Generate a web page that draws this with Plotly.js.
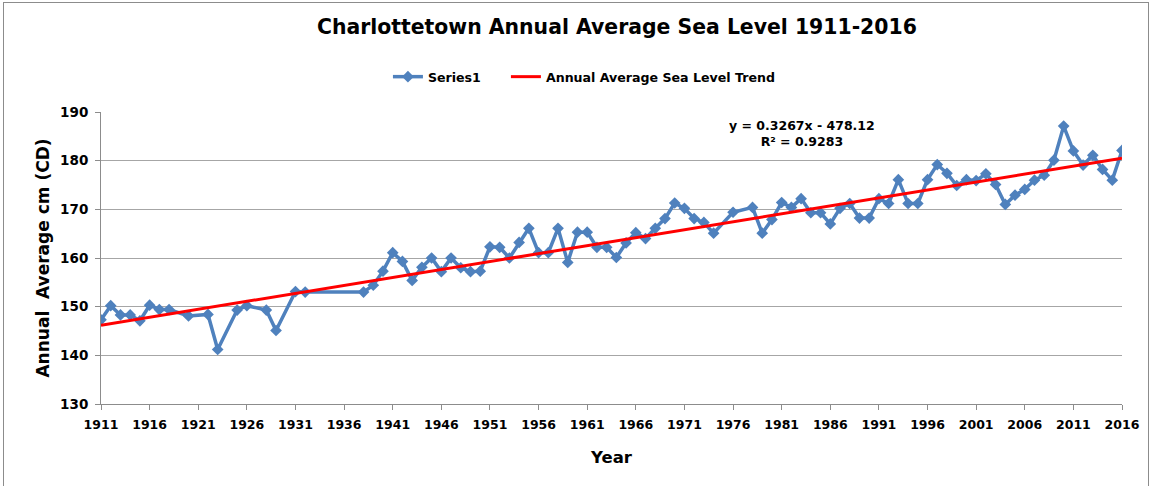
<!DOCTYPE html>
<html>
<head>
<meta charset="utf-8">
<script src="https://cdn.plot.ly/plotly-3.0.1.min.js"></script>
<style>
    html, body { margin: 0; padding: 0; background: #ffffff; }
    #frame {
        position: absolute; left: 3px; top: 2px;
        width: 1144px; height: 490px;
        border: 1px solid #8c8c8c;
    }
    #chart { position: absolute; left: -4px; top: -3px; width: 1151px; height: 486px; }
</style>
</head>
<body>
<div id="frame"><div id="chart"></div></div>
<script>
// 年份（有缺测年份）
const years = [1911, 1912, 1913, 1914, 1915, 1916, 1917, 1918, 1920, 1922, 1923, 1925, 1926, 1928, 1929,
    1931, 1932, 1938, 1939, 1940, 1941, 1942, 1943, 1944, 1945, 1946, 1947, 1948, 1949, 1950,
    1951, 1952, 1953, 1954, 1955, 1956, 1957, 1958, 1959, 1960, 1961, 1962, 1963, 1964, 1965,
    1966, 1967, 1968, 1969, 1970, 1971, 1972, 1973, 1974, 1976, 1978, 1979, 1980, 1981, 1982,
    1983, 1984, 1985, 1986, 1987, 1988, 1989, 1990, 1991, 1992, 1993, 1994, 1995, 1996, 1997,
    1998, 1999, 2000, 2001, 2002, 2003, 2004, 2005, 2006, 2007, 2008, 2009, 2010, 2011, 2012,
    2013, 2014, 2015, 2016];

// 年平均海平面 cm (CD)
const seaLevel = [147.3, 150.2, 148.3, 148.3, 147.1, 150.3, 149.4, 149.4, 148.1, 148.4, 141.2, 149.3, 150.2, 149.3, 145.1,
    153.1, 153.0, 153.0, 154.4, 157.3, 161.1, 159.3, 155.4, 158.1, 160.0, 157.2, 160.0, 158.0, 157.2, 157.3,
    162.3, 162.2, 160.0, 163.2, 166.1, 161.1, 161.1, 166.1, 159.1, 165.3, 165.3, 162.2, 162.2, 160.1, 163.1,
    165.2, 164.0, 166.1, 168.1, 171.3, 170.2, 168.1, 167.3, 165.1, 169.4, 170.4, 165.1, 167.9, 171.4, 170.4,
    172.2, 169.3, 169.3, 167.0, 170.2, 171.2, 168.2, 168.2, 172.2, 171.2, 176.1, 171.2, 171.2, 176.1, 179.2,
    177.4, 174.9, 176.1, 175.9, 177.3, 175.1, 171.0, 172.9, 174.1, 176.0, 177.0, 180.1, 187.1, 182.0, 179.1,
    181.1, 178.2, 176.0, 182.1];

// 趋势线端点
const trendYears = [1911, 2016];
const trendValues = [146.2, 180.5];

// 横轴刻度
const xTicks = [1911, 1916, 1921, 1926, 1931, 1936, 1941, 1946, 1951, 1956, 1961, 1966,
    1971, 1976, 1981, 1986, 1991, 1996, 2001, 2006, 2011, 2016];

// 纵轴刻度
const yTicks = [130, 140, 150, 160, 170, 180, 190];

const FONT = '"DejaVu Sans", Arial, sans-serif';

const data = [{
    x: years,
    y: seaLevel,
    type: 'scatter',
    mode: 'lines+markers',
    name: '<b>Series1</b>\u00a0\u00a0\u00a0\u00a0\u00a0',
    line: { color: '#4F81BD', width: 3.5 },
    marker: { symbol: 'diamond', size: 9, color: '#4F81BD' }
}, {
    x: trendYears,
    y: trendValues,
    type: 'scatter',
    mode: 'lines',
    name: '<b>Annual Average Sea Level Trend</b>',
    line: { color: '#FF0000', width: 3 }
}];

const layout = {
    width: 1151,
    height: 486,
    margin: { l: 101, r: 29, t: 112, b: 82 },
    paper_bgcolor: 'rgba(0,0,0,0)',
    plot_bgcolor: '#ffffff',
    font: { family: FONT, color: '#000000' },
    title: {
        text: '<b>Charlottetown Annual Average Sea Level 1911-2016</b>',
        font: { size: 20.4, family: FONT },
        x: 0.536, xanchor: 'center',
        y: 0.945, yanchor: 'middle'
    },
    showlegend: true,
    legend: {
        orientation: 'h',
        x: 0.473, xanchor: 'center',
        y: 1.12, yanchor: 'middle',
        font: { size: 12.6, family: FONT },
        itemwidth: 30,
        traceorder: 'normal'
    },
    xaxis: {
        range: [1911, 2016],
        tickvals: xTicks,
        ticktext: xTicks.map(v => '<b>' + v + '</b>'),
        tickfont: { size: 12.5 },
        ticks: 'outside',
        ticklen: 5,
        tickcolor: '#8c8c8c',
        ticklabelstandoff: 4,
        showgrid: false,
        zeroline: false,
        showline: true,
        linecolor: '#8c8c8c',
        linewidth: 1,
        title: { text: '<b>Year</b>', font: { size: 16.5 }, standoff: 20 }
    },
    yaxis: {
        range: [130, 190],
        tickvals: yTicks,
        ticktext: yTicks.map(v => '<b>' + v + '</b>'),
        tickfont: { size: 13.5 },
        ticks: 'outside',
        ticklen: 5,
        tickcolor: '#8c8c8c',
        ticklabelstandoff: 4,
        showgrid: true,
        gridcolor: '#a6a6a6',
        gridwidth: 1,
        zeroline: false,
        showline: true,
        linecolor: '#8c8c8c',
        linewidth: 1,
        title: { text: '<b>Annual  Average cm (CD)</b>', font: { size: 17 }, standoff: 6 }
    },
    annotations: [{
        xref: 'paper', yref: 'paper',
        x: 0.687, y: 0.926,
        xanchor: 'center', yanchor: 'middle',
        text: '<b>y = 0.3267x - 478.12</b><br><b>R² = 0.9283</b>',
        showarrow: false,
        font: { size: 12.5 },
        align: 'center'
    }]
};

const config = { displayModeBar: false, responsive: false };

Plotly.newPlot('chart', data, layout, config);
</script>
</body>
</html>
